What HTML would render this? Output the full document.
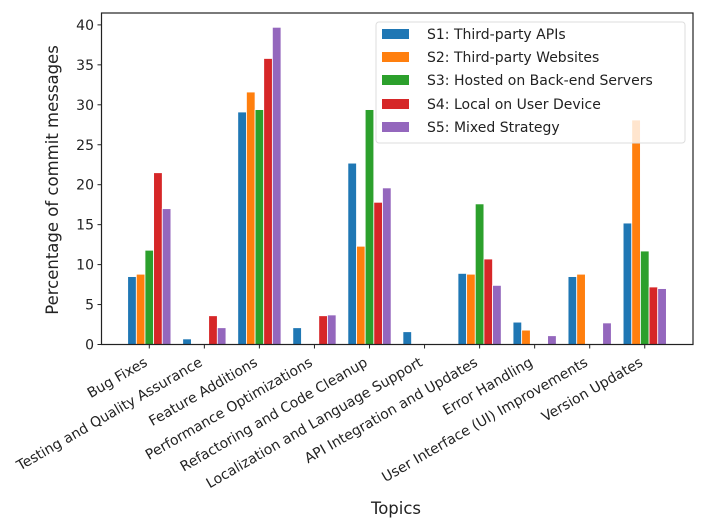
<!DOCTYPE html>
<html><head><meta charset="utf-8"><style>
body{margin:0;background:#fff}
text{font-family:"DejaVu Sans","Liberation Sans",sans-serif;fill:#222}
</style></head><body>
<svg width="706" height="522" xmlns="http://www.w3.org/2000/svg">
<rect width="706" height="522" fill="#fff"/>
<g id="bars" stroke="#fff" stroke-width="0.8"></g>
<rect x="101.5" y="13" width="591.5" height="331.5" fill="none" stroke="#222" stroke-width="1.2"/>
<g id="yt" font-size="14"></g>
<g id="xt" font-size="14"></g>
<text x="0" y="0" font-size="16.5" text-anchor="middle" transform="translate(58,180) rotate(-90)">Percentage of commit messages</text>
<text x="396" y="514" font-size="16.5" text-anchor="middle">Topics</text>
<g font-size="14">
<rect x="376" y="22" width="309" height="121" rx="3" fill="#fff" fill-opacity="0.8" stroke="#ddd"/>
<rect x="382" y="29" width="27" height="10" fill="#1f77b4"/><text x="427" y="39">S1: Third-party APIs</text>
<rect x="382" y="52" width="27" height="10" fill="#ff7f0e"/><text x="427" y="62">S2: Third-party Websites</text>
<rect x="382" y="75" width="27" height="10" fill="#2ca02c"/><text x="427" y="85">S3: Hosted on Back-end Servers</text>
<rect x="382" y="99" width="27" height="10" fill="#d62728"/><text x="427" y="109">S4: Local on User Device</text>
<rect x="382" y="122" width="27" height="10" fill="#9467bd"/><text x="427" y="132">S5: Mixed Strategy</text>
</g>
</svg>
<script>
var ns="http://www.w3.org/2000/svg";
var data=[[8.5,8.8,11.8,21.5,17.0],[0.7,0,0,3.6,2.1],[29.1,31.6,29.4,35.8,39.7],[2.1,0,0,3.6,3.7],[22.7,12.3,29.4,17.8,19.6],[1.6,0,0,0,0],[8.9,8.8,17.6,10.7,7.4],[2.8,1.8,0,0,1.1],[8.5,8.8,0,0,2.7],[15.2,28.1,11.7,7.2,7.0]];
var labels=["Bug Fixes","Testing and Quality Assurance","Feature Additions","Performance Optimizations","Refactoring and Code Cleanup","Localization and Language Support","API Integration and Updates","Error Handling","User Interface (UI) Improvements","Version Updates"];
var cols=["#1f77b4","#ff7f0e","#2ca02c","#d62728","#9467bd"];
var y0=344.5,k=7.99,bw=8.65;
var gb=document.getElementById("bars"),gx=document.getElementById("xt"),gy=document.getElementById("yt");
function el(t,a,p){var e=document.createElementNS(ns,t);for(var i in a)e.setAttribute(i,a[i]);p.appendChild(e);return e;}
for(var i=0;i<10;i++){var c=149.3+i*55.05;
 for(var j=0;j<5;j++){var v=data[i][j];if(v<=0)continue;var h=v*k;
  el("rect",{x:c+(j-2.5)*bw,y:y0-h,width:bw,height:h,fill:cols[j]},gb);}
 el("line",{x1:c,x2:c,y1:y0,y2:y0+4,stroke:"#222"},gx);
 var t=el("text",{x:0,y:0,"text-anchor":"end",transform:"translate("+(c-1)+",365) rotate(-30)"},gx);t.textContent=labels[i];}
for(var v=0;v<=40;v+=5){var y=y0-v*k;
 el("line",{x1:97.5,x2:101.5,y1:y,y2:y,stroke:"#222"},gy);
 var t=el("text",{x:94,y:y+5,"text-anchor":"end"},gy);t.textContent=v;}
</script>
</body></html>
